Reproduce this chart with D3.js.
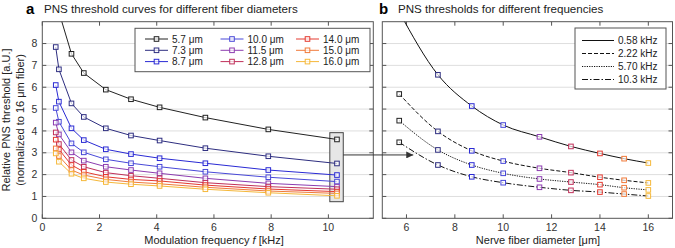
<!DOCTYPE html>
<html>
<head>
<meta charset="utf-8">
<script src="https://cdn.jsdelivr.net/npm/d3@7"></script>
<style>
  body { margin: 0; background: #fff; }
  svg { font-family: "Liberation Sans", Arial, sans-serif; }
</style>
</head>
<body>
<div id="chart"></div>
<script>
// ---- data ----
// panel a: modulation frequencies [kHz]
const freqs = [0.47, 0.58, 1.02, 1.45, 2.22, 3.1, 4.1, 5.7, 7.9, 10.3];
// relative thresholds for each fiber diameter
const d57  = [10.9, 9.45, 7.53, 6.65, 5.89, 5.45, 5.08, 4.61, 4.07, 3.61];
const d73  = [7.84, 6.82, 5.26, 4.64, 4.12, 3.79, 3.56, 3.21, 2.84, 2.51];
const d87  = [6.10, 5.34, 4.12, 3.58, 3.16, 2.94, 2.75, 2.52, 2.21, 1.98];
const d100 = [5.05, 4.42, 3.43, 3.02, 2.70, 2.52, 2.36, 2.13, 1.88, 1.68];
const d115 = [4.38, 3.84, 3.02, 2.64, 2.36, 2.21, 2.06, 1.83, 1.60, 1.45];
const d128 = [3.93, 3.40, 2.67, 2.36, 2.09, 1.95, 1.83, 1.63, 1.45, 1.33];
const d140 = [3.60, 3.15, 2.44, 2.13, 1.90, 1.78, 1.71, 1.52, 1.34, 1.22];
const d150 = [3.20, 2.85, 2.21, 1.98, 1.78, 1.66, 1.58, 1.42, 1.25, 1.14];
const d160 = [2.97, 2.59, 2.04, 1.83, 1.66, 1.56, 1.48, 1.33, 1.17, 1.03];
const seriesA = [d57, d73, d87, d100, d115, d128, d140, d150, d160];

const diameters = [5.7, 7.3, 8.7, 10.0, 11.5, 12.8, 14.0, 15.0, 16.0];
const diamLabels = ["5.7 μm", "7.3 μm", "8.7 μm", "10.0 μm", "11.5 μm", "12.8 μm", "14.0 μm", "15.0 μm", "16.0 μm"];
const colors = ["#222222", "#2e2e80", "#2a2ad4", "#4848d8", "#8c3cb0", "#c0305a", "#e43a30", "#f07a3a", "#f5b83a"];

// panel b: thresholds vs diameter at four frequencies
const f058 = [9.45, 6.57, 5.14, 4.27, 3.73, 3.29, 2.97, 2.73, 2.53];
const f222 = [5.69, 3.98, 3.09, 2.62, 2.29, 2.09, 1.88, 1.74, 1.62];
const f570 = [4.47, 3.13, 2.44, 2.06, 1.80, 1.66, 1.54, 1.40, 1.30];
const f103 = [3.48, 2.44, 1.90, 1.63, 1.42, 1.28, 1.20, 1.11, 1.02];
const seriesB = [f058, f222, f570, f103];
const freqLabels = ["0.58 kHz", "2.22 kHz", "5.70 kHz", "10.3 kHz"];
const dashes = [null, "4,2", "1.2,1.2", "6,2,1.5,2"];

const yTicks = [0, 1, 2, 3, 4, 5, 6, 7, 8];
const xTicksA = [0, 2, 4, 6, 8, 10];
const xTicksB = [6, 8, 10, 12, 14, 16];

// ---- layout ----
const W = 675, H = 248;
const yTop = 21.7, yBottom = 218.3;

const svg = d3.select("#chart").append("svg")
  .attr("width", W).attr("height", H);

const y = d3.scaleLinear().domain([0, 9]).range([yBottom, yTop]);
const xA = d3.scaleLinear().domain([0, 11.57]).range([42.3, 373.3]);
const xB = d3.scaleLinear().domain([5, 17]).range([382.3, 672.5]);

const defs = svg.append("defs");
defs.append("clipPath").attr("id", "clipA").append("rect")
  .attr("x", xA.range()[0]).attr("y", yTop)
  .attr("width", xA.range()[1] - xA.range()[0]).attr("height", yBottom - yTop);
defs.append("clipPath").attr("id", "clipB").append("rect")
  .attr("x", xB.range()[0]).attr("y", yTop)
  .attr("width", xB.range()[1] - xB.range()[0]).attr("height", yBottom - yTop);
defs.append("marker").attr("id", "arrow")
  .attr("viewBox", "0 0 10 10").attr("refX", 10).attr("refY", 5)
  .attr("markerWidth", 9).attr("markerHeight", 7).attr("markerUnits", "userSpaceOnUse")
  .attr("orient", "auto")
  .append("path").attr("d", "M0,0 L10,5 L0,10 Z").attr("fill", "#333");

// draws the frame, grid and inward ticks of one panel
function frame(x, xTicks, showYLabels) {
  const g = svg.append("g");
  const [x0, x1] = x.range();
  g.selectAll(".grid").data(yTicks.slice(1)).join("line")
    .attr("x1", x0).attr("x2", x1)
    .attr("y1", d => y(d)).attr("y2", d => y(d))
    .attr("stroke", "#dedede").attr("stroke-width", 1);
  // ticks: left/right for y, bottom/top for x
  g.selectAll(".ty").data(yTicks).join("path")
    .attr("d", d => `M${x0},${y(d)}h4M${x1},${y(d)}h-4`)
    .attr("stroke", "#555");
  g.selectAll(".tx").data(xTicks).join("path")
    .attr("d", d => `M${x(d)},${yBottom}v-4M${x(d)},${yTop}v4`)
    .attr("stroke", "#555");
  g.append("rect").attr("x", x0).attr("y", yTop)
    .attr("width", x1 - x0).attr("height", yBottom - yTop)
    .attr("fill", "none").attr("stroke", "#555").attr("stroke-width", 1);
  g.selectAll(".lx").data(xTicks).join("text")
    .attr("x", d => x(d)).attr("y", 230.5)
    .attr("text-anchor", "middle").attr("font-size", 10.5).attr("fill", "#333")
    .text(d => d);
  if (showYLabels) {
    g.selectAll(".ly").data(yTicks).join("text")
      .attr("x", x0 - 5).attr("y", d => y(d)).attr("dy", "0.35em")
      .attr("text-anchor", "end").attr("font-size", 10.5).attr("fill", "#333")
      .text(d => d);
  }
  return g;
}

function square(sel, cx, cy, color) {
  sel.append("rect")
    .attr("x", cx - 2.3).attr("y", cy - 2.3).attr("width", 4.6).attr("height", 4.6)
    .attr("fill", "#fff").attr("fill-opacity", 0.7)
    .attr("stroke", color).attr("stroke-width", 1);
}

// ---- panel a ----
frame(xA, xTicksA, true);

// highlight box around 10.3 kHz values
svg.append("rect")
  .attr("x", xA(10.05)).attr("y", y(3.92))
  .attr("width", xA(10.52) - xA(10.05)).attr("height", y(0.76) - y(3.92))
  .attr("fill", "#e6e6e6").attr("stroke", "#444").attr("stroke-width", 1);

const plotA = svg.append("g").attr("clip-path", "url(#clipA)");
const lineA = d3.line().x((d, i) => xA(freqs[i])).y(d => y(d));
seriesA.forEach((s, k) => {
  plotA.append("path").attr("d", lineA(s))
    .attr("fill", "none").attr("stroke", colors[k]).attr("stroke-width", 1);
});
seriesA.forEach((s, k) => {
  s.forEach((v, i) => square(plotA, xA(freqs[i]), y(v), colors[k]));
});

// legend a
const legA = svg.append("g");
legA.append("rect").attr("x", 135).attr("y", 28.3).attr("width", 235).attr("height", 43.4)
  .attr("fill", "#fff").attr("stroke", "#555");
diamLabels.forEach((lab, i) => {
  const c = Math.floor(i / 3), r = i % 3;
  const lx = 145 + c * 75.5, ly = 39 + r * 11.3;
  legA.append("line").attr("x1", lx).attr("x2", lx + 23).attr("y1", ly).attr("y2", ly)
    .attr("stroke", colors[i]);
  square(legA, lx + 11.5, ly, colors[i]);
  legA.append("text").attr("x", lx + 27).attr("y", ly).attr("dy", "0.35em")
    .attr("font-size", 10).attr("fill", "#222").text(lab);
});

// ---- panel b ----
frame(xB, xTicksB, false);

const plotB = svg.append("g").attr("clip-path", "url(#clipB)");
const lineB = d3.line().x((d, i) => xB(diameters[i])).y(d => y(d)).curve(d3.curveMonotoneX);
seriesB.forEach((s, k) => {
  plotB.append("path").attr("d", lineB(s))
    .attr("fill", "none").attr("stroke", "#111").attr("stroke-width", 1)
    .attr("stroke-dasharray", dashes[k]);
});
seriesB.forEach(s => {
  s.forEach((v, i) => square(plotB, xB(diameters[i]), y(v), colors[i]));
});

// legend b
const legB = svg.append("g");
legB.append("rect").attr("x", 575).attr("y", 28).attr("width", 91).attr("height", 61)
  .attr("fill", "#fff").attr("stroke", "#555");
freqLabels.forEach((lab, i) => {
  const ly = 40.5 + i * 13;
  legB.append("line").attr("x1", 582).attr("x2", 614).attr("y1", ly).attr("y2", ly)
    .attr("stroke", "#111").attr("stroke-dasharray", dashes[i]);
  legB.append("text").attr("x", 618).attr("y", ly).attr("dy", "0.35em")
    .attr("font-size", 10).attr("fill", "#222").text(lab);
});

// arrow from box to panel b
svg.append("line")
  .attr("x1", xA(10.52)).attr("x2", xB(6.28))
  .attr("y1", y(2.9)).attr("y2", y(2.9))
  .attr("stroke", "#333").attr("stroke-width", 1)
  .attr("marker-end", "url(#arrow)");

// ---- titles and axis labels ----
svg.append("text").attr("x", 26).attr("y", 13.5)
  .attr("font-size", 15).attr("font-weight", "bold").text("a");
svg.append("text").attr("x", 44).attr("y", 13)
  .attr("font-size", 11.6).attr("fill", "#222").text("PNS threshold curves for different fiber diameters");
svg.append("text").attr("x", 379).attr("y", 13.5)
  .attr("font-size", 15).attr("font-weight", "bold").text("b");
svg.append("text").attr("x", 398).attr("y", 13)
  .attr("font-size", 11.6).attr("fill", "#222").text("PNS thresholds for different frequencies");

const xlab = svg.append("text").attr("x", 214).attr("y", 244)
  .attr("text-anchor", "middle").attr("font-size", 11).attr("fill", "#222");
xlab.append("tspan").text("Modulation frequency ");
xlab.append("tspan").attr("font-style", "italic").text("f");
xlab.append("tspan").text(" [kHz]");

svg.append("text").attr("x", 538).attr("y", 244)
  .attr("text-anchor", "middle").attr("font-size", 11).attr("fill", "#222")
  .text("Nerve fiber diameter [μm]");

svg.append("text").attr("transform", "translate(10,120) rotate(-90)")
  .attr("text-anchor", "middle").attr("font-size", 11).attr("fill", "#222")
  .text("Relative PNS threshold [a.U.]");
svg.append("text").attr("transform", "translate(23.5,120) rotate(-90)")
  .attr("text-anchor", "middle").attr("font-size", 11).attr("fill", "#222")
  .text("(normalized to 16 μm fiber)");
</script>
</body>
</html>
